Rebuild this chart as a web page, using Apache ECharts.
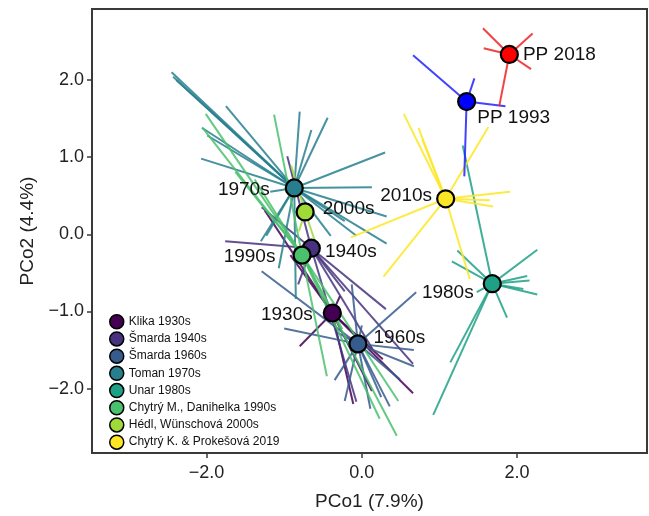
<!DOCTYPE html>
<html>
<head>
<meta charset="utf-8">
<script src="https://cdn.jsdelivr.net/npm/echarts@6/dist/echarts.min.js"></script>
<style>
  html, body { margin: 0; padding: 0; background: #fff; }
  #chart { width: 649px; height: 516px; }
</style>
</head>
<body>
<div id="chart"></div>
<script>
// group names (legend) and centroid labels
const groupNames = [
  'Klika 1930s', 'Šmarda 1940s', 'Šmarda 1960s', 'Toman 1970s', 'Unar 1980s',
  'Chytrý M., Danihelka 1990s', 'Hédl, Wünschová 2000s', 'Chytrý K. & Prokešová 2019',
  'PP 1993', 'PP 2018'
];
const centroidLabels = ['1930s', '1940s', '1960s', '1970s', '1980s', '1990s', '2000s', '2010s', 'PP 1993', 'PP 2018'];

// centroids (PCo1, PCo2)
const centroidX = [-0.38, -0.65, -0.05, -0.87, 1.68, -0.77, -0.73, 1.08, 1.35, 1.90];
const centroidY = [-1.02, -0.18, -1.42, 0.60, -0.64, -0.27, 0.29, 0.46, 1.72, 2.33];

// relevé positions, one array per group (spider legs go centroid -> point)
const klikaPts = [[-1.25, 0.31], [-0.80, -1.45], [0.66, -2.06], [-0.11, -2.20], [-0.28, -0.80],
  [0.27, -1.62], [-0.92, -0.27], [0.13, -2.03]];
const smarda40Pts = [[-1.76, -0.09], [-1.29, 0.35], [-0.96, 1.01], [0.31, -0.97], [0.66, -1.68],
  [-0.07, -2.17], [-0.22, -0.74], [-0.82, -0.65], [0.14, -1.49]];
const smarda60Pts = [[-1.29, -0.48], [-1.00, -1.22], [0.70, -0.75], [0.67, -1.50], [0.67, -1.71],
  [-0.13, -0.65], [-0.35, -1.89], [-0.22, -2.16], [0.36, -2.23], [0.25, -2.11], [0.00, -1.18],
  [-0.32, -1.27], [0.49, -1.88], [0.11, -2.26]];
const tomanPts = [[-2.45, 2.10], [-2.43, 2.04], [-2.39, 2.00], [-1.75, 1.66], [-2.06, 1.38],
  [-1.99, 1.28], [-2.07, 0.98], [-0.80, 1.59], [-0.65, 1.35], [-0.44, 1.51], [0.30, 1.06],
  [0.13, 0.61], [0.32, 0.23], [0.32, -0.12], [-0.07, -0.02], [-0.22, 0.17], [-1.30, -0.09],
  [-1.23, -0.02], [-1.07, -0.44], [-0.85, -0.84], [-1.18, 0.55], [-0.40, -0.02]];
const unarPts = [[1.30, 1.15], [1.23, -0.21], [1.16, -0.35], [2.26, -0.20], [2.13, -0.54],
  [2.16, -0.60], [2.08, -0.71], [2.26, -0.78], [1.87, -1.08], [1.14, -1.66], [0.92, -2.34],
  [1.48, -0.75]];
const chytryMPts = [[-2.01, 1.56], [-2.05, 1.38], [-1.13, 1.55], [-1.63, 0.81], [-0.45, -1.84],
  [0.45, -2.61], [0.47, -2.16], [0.23, -2.39], [-0.25, -1.23], [-0.64, -0.48], [-1.38, 0.71]];
const hedlPts = [[-0.91, 0.89], [-0.56, -0.22], [-0.81, 0.04]];
const chytryKPts = [[0.54, 1.56], [0.73, 1.38], [0.78, 1.23], [1.63, 1.39], [1.91, 0.55],
  [1.65, 0.44], [1.69, 0.36], [1.39, -0.58], [0.28, -0.55], [-0.14, -0.04]];
const pp1993Pts = [[0.66, 2.32], [1.45, 2.02], [1.85, 1.66], [1.32, 0.75]];
const pp2018Pts = [[1.56, 2.67], [2.20, 2.60], [1.57, 2.41], [2.18, 2.14], [1.77, 1.66]];

const groupPts = [klikaPts, smarda40Pts, smarda60Pts, tomanPts, unarPts, chytryMPts, hedlPts,
  chytryKPts, pp1993Pts, pp2018Pts];

// tick values
const xTicks = [-2, 0, 2];
const yTicks = [-2, -1, 0, 1, 2];

// styles
const pointColors = ['#440154', '#46327e', '#365c8d', '#277f8e', '#1fa187', '#4ac16d', '#a0da39',
  '#fde725', '#0000ff', '#ff0000'];
const legColors = ['#440154', '#46327e', '#365c8d', '#277f8e', '#1fa187', '#4ac16d', '#a0da39',
  '#fde725', '#2222ff', '#ee2222'];
// [position, distance, offsetX, offsetY]
const labelPlace = [
  ['left', 10, 0, 2], ['right', 4, 0, 4], ['right', 6, 0, -6], ['left', 15, 0, 2],
  ['left', 9, 0, 9], ['left', 17, 0, 2], ['right', 8, 0, -3], ['left', 4, 0, -3],
  ['right', 1, 0, 16], ['right', 4, 0, 0]
];

const FONT = '"Liberation Sans", Arial, Helvetica, sans-serif';
const fmt = v => (v < 0 ? '\u2212' : '') + Math.abs(v).toFixed(1);

const chart = echarts.init(document.getElementById('chart'), null, { renderer: 'canvas' });

const series = [];
groupPts.forEach((pts, i) => {
  series.push({
    type: 'lines',
    name: 'legs ' + groupNames[i],
    coordinateSystem: 'cartesian2d',
    silent: true,
    z: 2,
    lineStyle: { color: legColors[i], width: 2, opacity: 0.85 },
    data: pts.map(p => ({ coords: [[centroidX[i], centroidY[i]], p] }))
  });
});
groupPts.forEach((pts, i) => {
  const lp = labelPlace[i];
  series.push({
    type: 'scatter',
    name: groupNames[i],
    z: 5,
    symbol: 'circle',
    symbolSize: 17,
    itemStyle: { color: pointColors[i], borderColor: '#000', borderWidth: 2.2, opacity: 1 },
    label: {
      show: true,
      formatter: centroidLabels[i],
      position: lp[0],
      distance: lp[1],
      offset: [lp[2], lp[3]],
      fontSize: 19,
      color: '#111',
      fontFamily: FONT
    },
    data: [[centroidX[i], centroidY[i]]]
  });
});

const axisLineStyle = { show: true, onZero: false, lineStyle: { color: '#3a3a3a', width: 2 } };

const option = {
  animation: false,
  backgroundColor: '#fff',
  grid: {
    left: 92, right: 2, top: 9, bottom: 62,
    show: true, borderColor: '#3a3a3a', borderWidth: 2, backgroundColor: 'transparent'
  },
  legend: {
    data: groupNames.slice(0, 8).map(n => ({ name: n, icon: 'circle' })),
    orient: 'vertical',
    left: 109,
    top: 314,
    padding: 0,
    itemWidth: 14,
    itemHeight: 14,
    itemGap: 1.7,
    selectedMode: false,
    itemStyle: { borderColor: '#000', borderWidth: 1.5 },
    textStyle: { fontSize: 12, lineHeight: 14, color: '#111', fontFamily: FONT }
  },
  xAxis: {
    type: 'value',
    min: -3.475,
    max: 3.673,
    name: 'PCo1 (7.9%)',
    nameLocation: 'middle',
    nameGap: 39,
    nameTextStyle: { fontSize: 19, color: '#222', fontFamily: FONT },
    axisLine: axisLineStyle,
    splitLine: { show: false },
    axisTick: { show: true, customValues: xTicks, length: 5, lineStyle: { color: '#3a3a3a', width: 1.5 } },
    axisLabel: { customValues: xTicks, formatter: fmt, fontSize: 18, color: '#222', margin: 11, fontFamily: FONT }
  },
  yAxis: {
    type: 'value',
    min: -2.834,
    max: 2.919,
    name: 'PCo2 (4.4%)',
    nameLocation: 'middle',
    nameGap: 53,
    nameTextStyle: { fontSize: 19, color: '#222', fontFamily: FONT },
    axisLine: axisLineStyle,
    splitLine: { show: false },
    axisTick: { show: true, customValues: yTicks, length: 5, lineStyle: { color: '#3a3a3a', width: 1.5 } },
    axisLabel: { customValues: yTicks, formatter: fmt, fontSize: 18, color: '#222', margin: 8, fontFamily: FONT }
  },
  series: series
};

chart.setOption(option);
</script>
</body>
</html>
